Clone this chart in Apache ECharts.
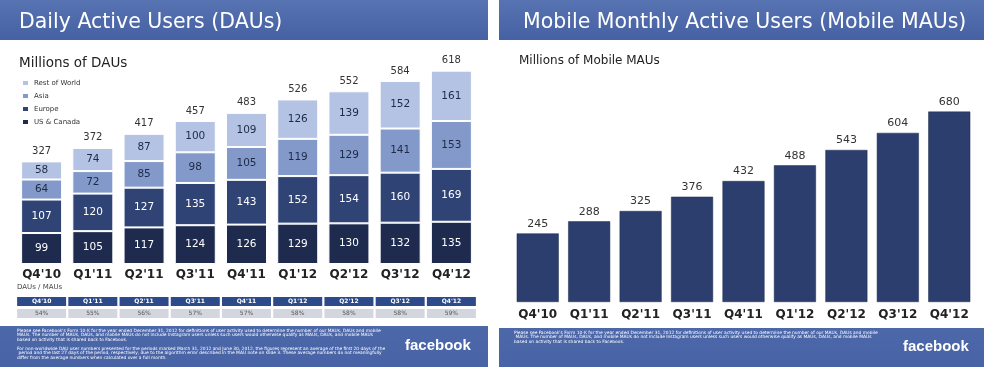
<!DOCTYPE html>
<html>
<head>
<meta charset="utf-8">
<script src="https://cdn.jsdelivr.net/npm/echarts@6/dist/echarts.min.js"></script>
<style>html,body{margin:0;padding:0;background:#fff}#c{width:984px;height:367px}</style>
</head>
<body>
<div id="c"></div>
<script>
const categories = ["Q4'10", "Q1'11", "Q2'11", "Q3'11", "Q4'11", "Q1'12", "Q2'12", "Q3'12", "Q4'12"];
const usCanada = [99, 105, 117, 124, 126, 129, 130, 132, 135];
const europe = [107, 120, 127, 135, 143, 152, 154, 160, 169];
const asia = [64, 72, 85, 98, 105, 119, 129, 141, 153];
const restOfWorld = [58, 74, 87, 100, 109, 126, 139, 152, 161];
const dauTotals = [327, 372, 417, 457, 483, 526, 552, 584, 618];
const dauMauRatio = ['54%', '55%', '56%', '57%', '57%', '58%', '58%', '58%', '59%'];
const mobileMaus = [245, 288, 325, 376, 432, 488, 543, 604, 680];

const leftTitle = 'Daily Active Users (DAUs)';
const rightTitle = 'Mobile Monthly Active Users (Mobile MAUs)';
const leftSub = 'Millions of DAUs';
const rightSub = 'Millions of Mobile MAUs';
const footNote1 = "Please see Facebook's Form 10-K for the year ended December 31, 2012 for definitions of user activity used to determine the number of our MAUs, DAUs and mobile MAUs. The number of MAUs, DAUs, and mobile MAUs do not include Instagram users unless such users would otherwise qualify as MAUs, DAUs, and mobile MAUs based on activity that is shared back to Facebook.";
const footNote2 = "For non-worldwide DAU user numbers presented for the periods marked March 31, 2012 and June 30, 2012, the figures represent an average of the first 20 days of the period and the last 27 days of the period, respectively, due to the algorithm error described in the MAU note on slide 3. These average numbers do not meaningfully differ from the average numbers when calculated over a full month.";

const FONT = 'DejaVu Sans';
const chart = echarts.init(document.getElementById('c'), null, {renderer: 'canvas'});

const headGrad = new echarts.graphic.LinearGradient(0, 0, 0, 1, [
  {offset: 0, color: '#5873b2'}, {offset: 1, color: '#4561a3'}
]);
const footGrad = new echarts.graphic.LinearGradient(0, 0, 0, 1, [
  {offset: 0, color: '#4d68a9'}, {offset: 1, color: '#4864a6'}
]);

const segLabel = (color) => ({
  show: true, position: 'inside', color: color, fontFamily: FONT, fontSize: 10.5
});

const option = {
  animation: false,
  textStyle: {fontFamily: FONT},
  title: [
    {text: leftTitle, left: 14, top: 7, textStyle: {color: '#fff', fontSize: 20.5, fontWeight: 'normal', fontFamily: FONT}},
    {text: rightTitle, left: 518, top: 7, textStyle: {color: '#fff', fontSize: 20.5, fontWeight: 'normal', fontFamily: FONT}},
    {text: leftSub, left: 14, top: 51, textStyle: {color: '#222', fontSize: 13.5, fontWeight: 'normal', fontFamily: FONT}},
    {text: rightSub, left: 514, top: 50, textStyle: {color: '#222', fontSize: 12, fontWeight: 'normal', fontFamily: FONT}}
  ],
  legend: {
    orient: 'vertical', left: 16, top: 74,
    data: ['Rest of World', 'Asia', 'Europe', 'US & Canada'],
    itemWidth: 7, itemHeight: 6, itemGap: 5,
    icon: 'rect',
    textStyle: {fontSize: 7, color: '#333', fontFamily: FONT}
  },
  grid: [
    {left: 16, width: 461, top: 45, height: 219},
    {left: 512, width: 463, top: 106, height: 196},
    {left: 16, width: 461, top: 307, height: 1}
  ],
  xAxis: [
    {type: 'category', gridIndex: 0, data: categories,
     axisLine: {show: false}, axisTick: {show: false},
     axisLabel: {margin: 5, fontSize: 12, fontWeight: 'bold', color: '#222', fontFamily: FONT}},
    {type: 'category', gridIndex: 1, data: categories,
     axisLine: {show: false}, axisTick: {show: false},
     axisLabel: {margin: 7, fontSize: 12, fontWeight: 'bold', color: '#222', fontFamily: FONT}},
    {type: 'category', gridIndex: 2, position: 'top', data: categories,
     axisLine: {show: false}, axisTick: {show: false},
     axisLabel: {margin: 1, fontSize: 6, fontWeight: 'bold', color: '#fff', fontFamily: FONT,
       width: 49, height: 9, lineHeight: 9, align: 'center', backgroundColor: '#2d4a8a'}},
    {type: 'category', gridIndex: 2, position: 'bottom', data: dauMauRatio,
     axisLine: {show: false}, axisTick: {show: false},
     axisLabel: {margin: 1, fontSize: 6, color: '#555', fontFamily: FONT,
       width: 49, height: 9, lineHeight: 9, align: 'center', backgroundColor: '#d3d6de'}}
  ],
  yAxis: [
    {type: 'value', gridIndex: 0, min: 0, max: 700, show: false},
    {type: 'value', gridIndex: 1, min: 0, max: 700, show: false},
    {type: 'value', gridIndex: 2, min: 0, max: 1, show: false}
  ],
  series: [
    {name: 'US & Canada', type: 'bar', stack: 'dau', xAxisIndex: 0, yAxisIndex: 0, data: usCanada, barWidth: 41,
     itemStyle: {color: '#1e2b4f', borderColor: '#fff', borderWidth: 1}, label: segLabel('#fff')},
    {name: 'Europe', type: 'bar', stack: 'dau', xAxisIndex: 0, yAxisIndex: 0, data: europe, barWidth: 41,
     itemStyle: {color: '#2f4375', borderColor: '#fff', borderWidth: 1}, label: segLabel('#fff')},
    {name: 'Asia', type: 'bar', stack: 'dau', xAxisIndex: 0, yAxisIndex: 0, data: asia, barWidth: 41,
     itemStyle: {color: '#8299ca', borderColor: '#fff', borderWidth: 1}, label: segLabel('#1f2a44')},
    {name: 'Rest of World', type: 'bar', stack: 'dau', xAxisIndex: 0, yAxisIndex: 0, data: restOfWorld, barWidth: 41,
     itemStyle: {color: '#b4c3e4', borderColor: '#fff', borderWidth: 1}, label: segLabel('#1f2a44')},
    {name: 'Total', type: 'bar', xAxisIndex: 0, yAxisIndex: 0, data: dauTotals, barWidth: 41, barGap: '-100%',
     silent: true, z: 1, itemStyle: {color: 'rgba(0,0,0,0)'},
     label: {show: true, position: 'top', distance: 5, fontSize: 10, color: '#333', fontFamily: FONT}},
    {name: 'Mobile MAUs', type: 'bar', xAxisIndex: 1, yAxisIndex: 1, data: mobileMaus, barWidth: 42,
     itemStyle: {color: '#2c3e6d', borderColor: '#1c2a4c', borderWidth: 0.5},
     label: {show: true, position: 'top', distance: 4, fontSize: 11, color: '#333', fontFamily: FONT}}
  ],
  graphic: [
    {type: 'rect', z: -10, shape: {x: 0, y: 0, width: 488, height: 40}, style: {fill: headGrad}},
    {type: 'rect', z: -10, shape: {x: 499, y: 0, width: 485, height: 40}, style: {fill: headGrad}},
    {type: 'rect', z: -10, shape: {x: 0, y: 326, width: 488, height: 41}, style: {fill: footGrad}},
    {type: 'rect', z: -10, shape: {x: 499, y: 328, width: 485, height: 39}, style: {fill: footGrad}},
    {type: 'text', left: 17, top: 284, style: {text: 'DAUs / MAUs', fontSize: 7, fill: '#444', fontFamily: FONT}},
    {type: 'text', left: 17, top: 328, style: {text: footNote1, width: 370, overflow: 'break', fontSize: 4.4, lineHeight: 4.8, fill: '#fff', fontFamily: FONT}},
    {type: 'text', left: 17, top: 346, style: {text: footNote2, width: 370, overflow: 'break', fontSize: 4.4, lineHeight: 4.8, fill: '#fff', fontFamily: FONT}},
    {type: 'text', left: 514, top: 330, style: {text: footNote1, width: 365, overflow: 'break', fontSize: 4.4, lineHeight: 4.8, fill: '#fff', fontFamily: FONT}},
    {type: 'text', left: 405, top: 338, style: {text: 'facebook', fontSize: 15, fontWeight: 'bold', fill: '#fff', fontFamily: 'Liberation Sans'}},
    {type: 'text', left: 903, top: 339, style: {text: 'facebook', fontSize: 15, fontWeight: 'bold', fill: '#fff', fontFamily: 'Liberation Sans'}}
  ]
};
chart.setOption(option);
</script>
</body>
</html>
